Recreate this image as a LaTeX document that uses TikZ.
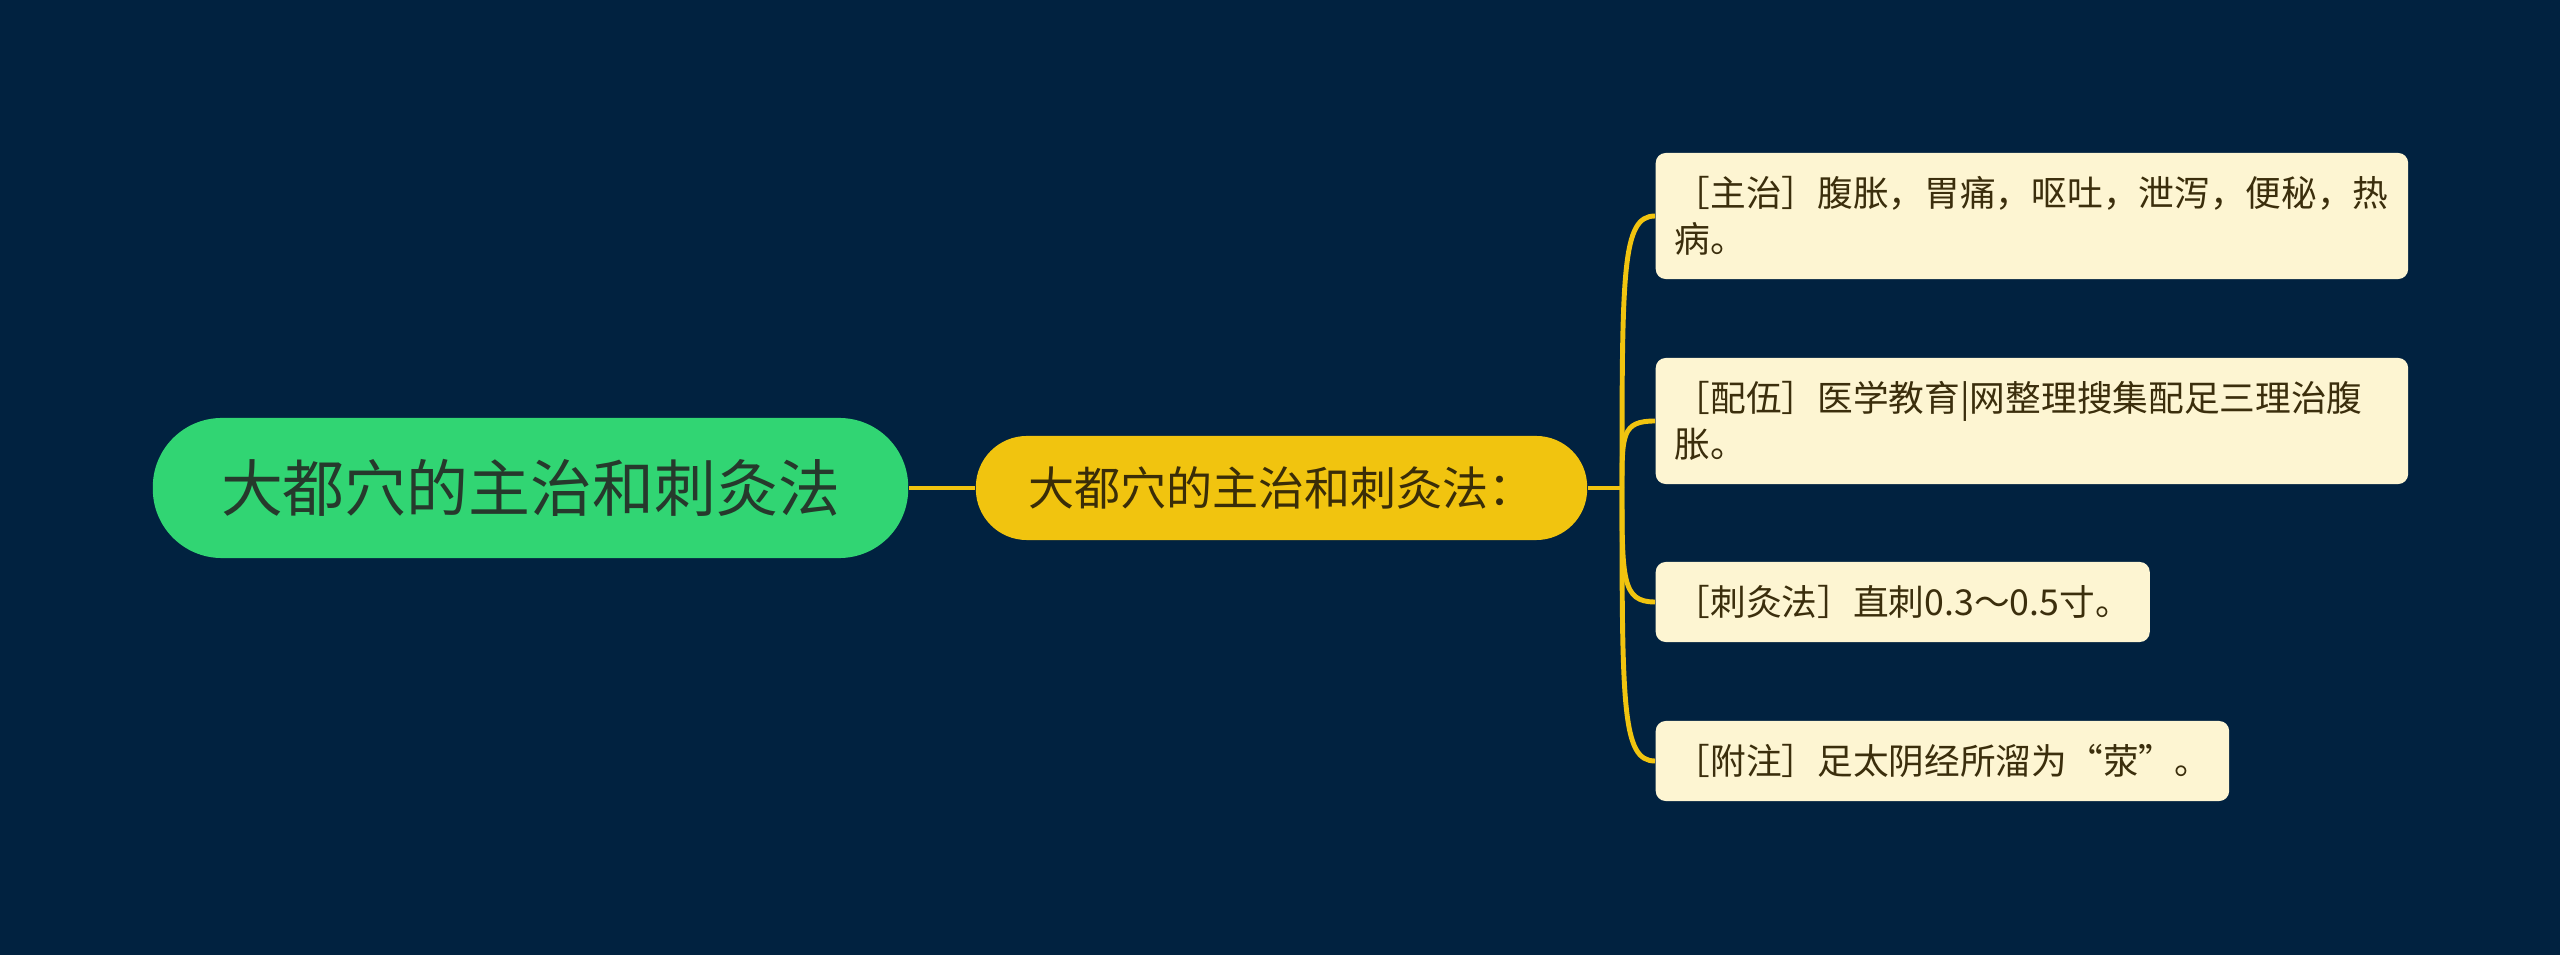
\documentclass[tikz,border=0pt]{standalone}
\usepackage{fontspec}
\newfontfamily\cjk{Noto Sans CJK SC}
\usetikzlibrary{calc}
\definecolor{bgnavy}{HTML}{012240}
\definecolor{rootgreen}{HTML}{31D573}
\definecolor{roottext}{HTML}{26392C}
\definecolor{branchyellow}{HTML}{F1C40F}
\definecolor{midtext}{HTML}{3A2D08}
\definecolor{leafcream}{HTML}{FDF5D2}
\definecolor{leaftext}{HTML}{3B2E0C}

\tikzset{
  leaf/.style={fill=leafcream, rounded corners=0.1cm, anchor=west, text=leaftext,
    inner xsep=0.19cm, font=\cjk\fontsize{10.15}{13}\selectfont},
  twoline/.style={leaf, text width=7.14cm, align=left, minimum height=1.26cm},
  oneline/.style={leaf, minimum height=0.8cm},
  branch/.style={branchyellow, line width=1.4pt}
}

\begin{document}
\begin{tikzpicture}[x=0.01cm, y=-0.01cm]
  % Background
  \fill[bgnavy] (0,0) rectangle (2560,955);
  % Central topic
  \node[fill=rootgreen, rounded corners=0.69cm, minimum width=7.55cm, minimum height=1.4cm,
    text=roottext, font=\cjk\fontsize{17.6}{20}\selectfont] (root) at (530.5,488) {大都穴的主治和刺灸法};
  % Main branch
  \node[fill=branchyellow, rounded corners=0.51cm, minimum width=6.11cm, minimum height=1.04cm,
    text=midtext, font=\cjk\fontsize{13.1}{15}\selectfont] (topic) at (1281.5,488) {大都穴的主治和刺灸法：};
  % Leaves
  \node[twoline] (zhuzhi) at (1655,216) {［主治］腹胀，胃痛，呕吐，泄泻，便秘，热\\病。};
  \node[twoline] (peiwu) at (1655,421) {［配伍］医学教育|网整理搜集配足三理治腹\\胀。};
  \node[oneline] (cijiu) at (1655,602) {［刺灸法］直刺0.3～0.5寸。};
  \node[oneline] (fuzhu) at (1655,761) {［附注］足太阴经所溜为“荥”。};
  % Connectors
  \coordinate (fork) at (1622,488);
  \draw[branch] (root.east) -- (topic.west);
  \draw[branch] (topic.east) -- (fork);
  \foreach \leafname in {zhuzhi, peiwu, cijiu, fuzhu}
    \draw[branch] (fork) .. controls ($(fork)!0.8!(fork |- \leafname.west)$) and (fork |- \leafname.west) .. (\leafname.west);
\end{tikzpicture}
\end{document}
